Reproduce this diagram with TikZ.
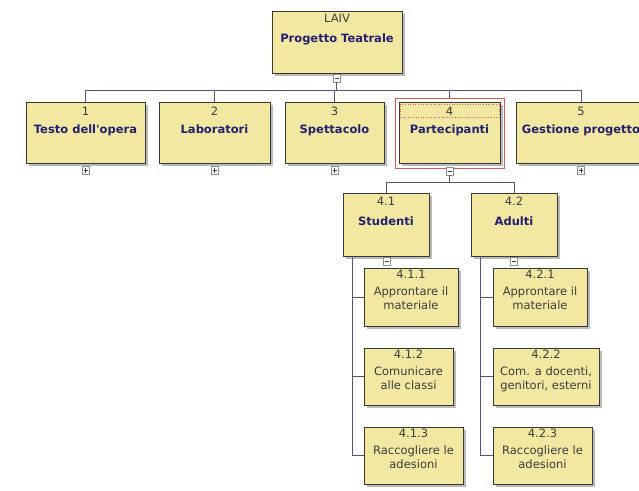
\documentclass[tikz,border=0pt]{standalone}
\usepackage{fontspec}
\setmainfont{DejaVu Sans}
\newfontfamily\wbsfont{DejaVu Sans}
\usetikzlibrary{shadows}

\definecolor{wbsfill}{RGB}{243,232,162}
\definecolor{wbsedge}{RGB}{55,55,55}
\definecolor{wbsline}{RGB}{80,84,130}
\definecolor{wbstitle}{RGB}{32,32,110}
\definecolor{wbsnum}{RGB}{60,60,60}
\definecolor{wbssel}{RGB}{222,90,90}

% box body: width, height, first baseline, baseline skip, lines
\newcommand{\wbsbody}[5]{\parbox[c][#2][t]{#1}{\centering\wbsfont\fontsize{11.5pt}{#4}\selectfont\rule{0pt}{#3}#5}}
\newcommand{\wbstitle}[1]{{\bfseries\color{wbstitle}#1}}

\begin{document}
\begin{tikzpicture}[x=1pt,y=-1pt,
  wbs/.style={draw=wbsedge, fill=wbsfill, line width=0.8pt, inner sep=0pt, text=wbsnum,
    drop shadow={shadow xshift=2.5pt, shadow yshift=-2.5pt, fill=black!45, opacity=0.6}},
  conn/.style={draw=wbsline, line width=0.9pt},
  togbase/.style={draw=black!45, fill=white, minimum width=7pt, minimum height=8pt, inner sep=0pt, line width=0.6pt},
  togminus/.style={togbase, path picture={\draw[black!75,line width=0.8pt]
    ([xshift=1.5pt]path picture bounding box.west) -- ([xshift=-1.5pt]path picture bounding box.east);}},
  togplus/.style={togbase, path picture={\draw[black!75,line width=0.8pt]
    ([xshift=1.5pt]path picture bounding box.west) -- ([xshift=-1.5pt]path picture bounding box.east)
    (path picture bounding box.center) ++(0,-2.2) -- ++(0,4.4);}},
  selframe/.style={draw=wbssel, line width=0.8pt, inner sep=0pt},
  selnum/.style={draw=wbssel, dotted, line width=0.6pt, inner sep=0pt},
]
\useasboundingbox (0,0) rectangle (639,490);

% root
\node[wbs] (root) at (337,42) {\wbsbody{130pt}{62pt}{11.5pt}{19.5pt}{LAIV\\\wbstitle{Progetto Teatrale}}};

% first level
\node[wbs] (t1) at (85.5,132.5) {\wbsbody{119pt}{61pt}{13.5pt}{18pt}{1\\\wbstitle{Testo dell'opera}}};
\node[wbs] (t2) at (214.5,132.5) {\wbsbody{111pt}{61pt}{13.5pt}{18pt}{2\\\wbstitle{Laboratori}}};
\node[wbs] (t3) at (334.5,132.5) {\wbsbody{99pt}{61pt}{13.5pt}{18pt}{3\\\wbstitle{Spettacolo}}};
\node[wbs] (t4) at (449.5,132.5) {\wbsbody{101pt}{61pt}{13.5pt}{18pt}{4\\\wbstitle{Partecipanti}}};
\node[wbs] (t5) at (581,132.5) {\wbsbody{130pt}{61pt}{13.5pt}{18pt}{5\\\wbstitle{Gestione progetto}}};

% selection marks on "Partecipanti"
\node[selframe, minimum width=109pt, minimum height=70pt] (sel) at (449.5,133) {};
\node[selnum, minimum width=99pt, minimum height=13pt] (seln) at (449.5,110.5) {};

% second level
\node[wbs] (s) at (386,224.5) {\wbsbody{86pt}{63pt}{12.5pt}{20pt}{4.1\\\wbstitle{Studenti}}};
\node[wbs] (a) at (514,224.5) {\wbsbody{86pt}{63pt}{12.5pt}{20pt}{4.2\\\wbstitle{Adulti}}};

% third level
\node[wbs] (s1) at (411,297) {\wbsbody{94pt}{58pt}{10pt}{14.5pt}{4.1.1\\[2.5pt]Approntare il\\materiale}};
\node[wbs] (s2) at (408.5,376.5) {\wbsbody{89pt}{57pt}{10pt}{14.5pt}{4.1.2\\[2.5pt]Comunicare\\alle classi}};
\node[wbs] (s3) at (413.5,455.5) {\wbsbody{99pt}{57pt}{10pt}{14.5pt}{4.1.3\\[2.5pt]Raccogliere le\\adesioni}};
\node[wbs] (a1) at (540,297) {\wbsbody{94pt}{58pt}{10pt}{14.5pt}{4.2.1\\[2.5pt]Approntare il\\materiale}};
\node[wbs] (a2) at (546,376.5) {\wbsbody{106pt}{57pt}{10pt}{14.5pt}{4.2.2\\[2.5pt]Com. a docenti,\\genitori, esterni}};
\node[wbs] (a3) at (542.5,455.5) {\wbsbody{99pt}{57pt}{10pt}{14.5pt}{4.2.3\\[2.5pt]Raccogliere le\\adesioni}};

% expand / collapse toggles
\node[togminus] (rootT) at (336.5,78) {};
\node[togplus] (t1T) at (85.5,170.5) {};
\node[togplus] (t2T) at (214.5,170.5) {};
\node[togplus] (t3T) at (334.5,170.5) {};
\node[togminus] (t4T) at (449.5,171) {};
\node[togplus] (t5T) at (581,170.5) {};
\node[togminus] (sT) at (386.5,261) {};
\node[togminus] (aT) at (514,261) {};

% bus levels
\coordinate (busA) at (0,90);
\coordinate (busB) at (0,182);

% connectors
\foreach \c in {t1,t2,t3,t5}
  \draw[conn] (rootT.south) |- (\c.north |- busA) -- (\c.north);
\draw[conn] (rootT.south) |- (t4.north |- busA) -- (sel.north);

\draw[conn] (t4T.south) |- (s.north |- busB) -- (s.north);
\draw[conn] (t4T.south) |- (a.north |- busB) -- (a.north);

\coordinate (sL) at ([xshift=10pt]s.south west);
\coordinate (aL) at ([xshift=10pt]a.south west);
\foreach \c in {s1,s2,s3}
  \draw[conn] (sL) |- (\c.west);
\foreach \c in {a1,a2,a3}
  \draw[conn] (aL) |- (\c.west);
\end{tikzpicture}
\end{document}
